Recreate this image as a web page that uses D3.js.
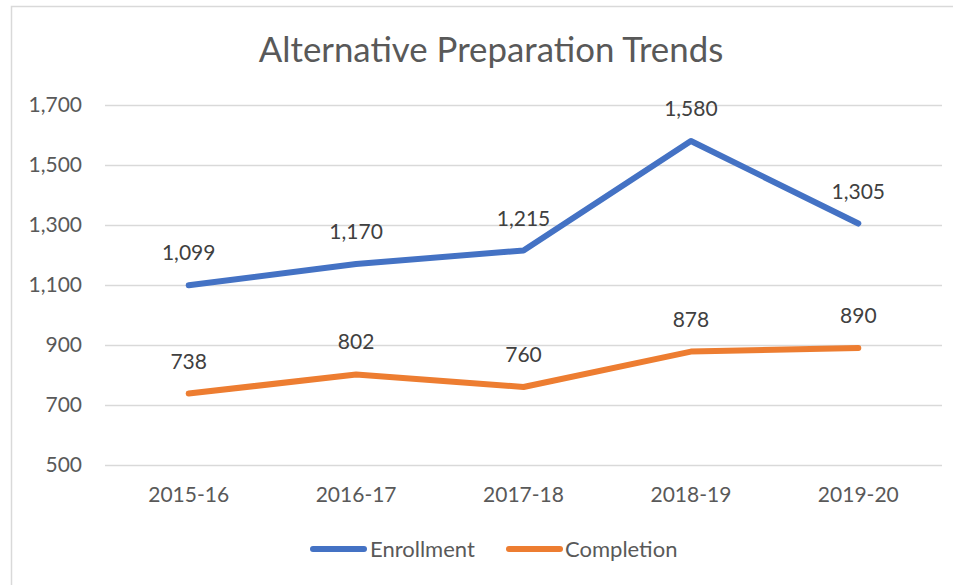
<!DOCTYPE html>
<html>
<head>
<meta charset="utf-8">
<script src="https://cdn.jsdelivr.net/npm/d3@7"></script>
<style>
body{margin:0;background:#fff;}
svg{display:block;font-family:Lato,"Open Sans",sans-serif;}
</style>
</head>
<body>
<svg id="chart" width="953" height="585"></svg>
<script>
// data
const years = ['2015-16','2016-17','2017-18','2018-19','2019-20'];
const enrollment = [1099, 1170, 1215, 1580, 1305];
const completion = [738, 802, 760, 878, 890];
const yTicks = [500, 700, 900, 1100, 1300, 1500, 1700];
const seriesNames = ['Enrollment','Completion'];
const colors = ['#4472C4','#ED7D31'];

const svg = d3.select('#chart');
const plot = {left:105, right:942, top:105, bottom:465};

// chart frame
svg.append('rect').attr('x',11.5).attr('y',6.5).attr('width',960).attr('height',600)
  .attr('fill','#fff').attr('stroke','#D9D9D9').attr('stroke-width',1.5);

svg.append('text').attr('x',491).attr('y',62).attr('text-anchor','middle')
  .attr('font-size',34.8).attr('fill','#595959').text('Alternative Preparation Trends');

const x = d3.scaleBand().domain(years).range([plot.left, plot.right]);
const y = d3.scaleLinear().domain([500,1700]).range([plot.bottom, plot.top]);

// gridlines + y labels
const yAxis = d3.axisLeft(y).tickValues(yTicks).tickSize(-(plot.right-plot.left))
  .tickPadding(23).tickFormat(d3.format(','));
const gy = svg.append('g').attr('transform',`translate(${plot.left},0)`).call(yAxis);
gy.select('.domain').remove();
gy.selectAll('line').attr('stroke','#D9D9D9').attr('stroke-width',1.5);
gy.selectAll('text').attr('font-size',21).attr('fill','#595959').attr('font-family','Lato');

const xAxis = d3.axisBottom(x).tickSize(0).tickPadding(22);
const gx = svg.append('g').attr('transform',`translate(0,${plot.bottom})`).call(xAxis);
gx.select('.domain').remove();
gx.selectAll('text').attr('font-size',21).attr('fill','#595959').attr('font-family','Lato');

const cx = d => x(d) + x.bandwidth()/2;
const line = d3.line().x((d,i) => cx(years[i])).y(d => y(d));

[enrollment, completion].forEach((vals, s) => {
  svg.append('path').datum(vals).attr('d', line).attr('fill','none')
    .attr('stroke', colors[s]).attr('stroke-width',6)
    .attr('stroke-linejoin','round').attr('stroke-linecap','round');
  svg.append('g').selectAll('text').data(vals).join('text')
    .attr('x',(d,i) => cx(years[i])).attr('y', d => y(d) - 25)
    .attr('text-anchor','middle').attr('font-size',21).attr('fill','#404040')
    .text(d => d3.format(',')(d));
});

// legend
const legendItems = [{x:310, tx:370}, {x:506, tx:565}];
seriesNames.forEach((name, s) => {
  const it = legendItems[s];
  svg.append('line').attr('x1',it.x+3).attr('x2',it.x+54).attr('y1',549).attr('y2',549)
    .attr('stroke',colors[s]).attr('stroke-width',6).attr('stroke-linecap','round');
  svg.append('text').attr('x',it.tx).attr('y',556.5).attr('font-size',22)
    .attr('fill','#595959').text(name);
});
</script>
</body>
</html>
